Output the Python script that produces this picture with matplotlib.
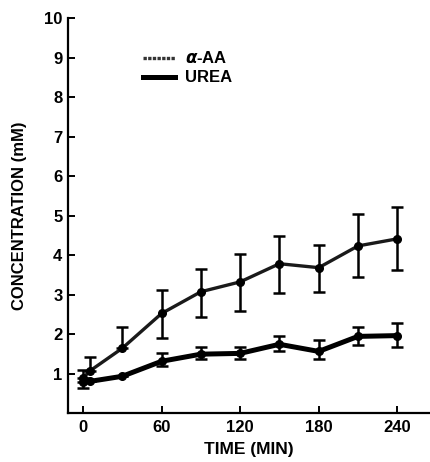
import matplotlib
matplotlib.use("Agg")
import matplotlib.pyplot as plt
import numpy as np

time = [0, 5, 30, 60, 90, 120, 150, 180, 210, 240]
aa_mean = [0.88, 1.06, 1.64, 2.52, 3.07, 3.32, 3.78, 3.68, 4.23, 4.41]
aa_upper = [1.08, 1.41, 2.17, 3.12, 3.65, 4.03, 4.48, 4.26, 5.04, 5.21]
aa_lower = [0.88, 1.06, 1.64, 1.91, 2.44, 2.59, 3.05, 3.07, 3.45, 3.63]
urea_mean = [0.78, 0.80, 0.93, 1.31, 1.49, 1.51, 1.74, 1.56, 1.94, 1.96]
urea_upper = [0.78, 0.80, 0.93, 1.51, 1.66, 1.66, 1.94, 1.86, 2.17, 2.27]
urea_lower = [0.63, 0.80, 0.93, 1.18, 1.36, 1.36, 1.56, 1.36, 1.71, 1.66]

xticks = [0, 60, 120, 180, 240]
yticks = [1, 2, 3, 4, 5, 6, 7, 8, 9, 10]

plt.rcParams['font.family'] = ['Liberation Sans', 'DejaVu Sans']
plt.rcParams['font.weight'] = 'bold'

fig = plt.figure(figsize=(4.3, 4.62), dpi=100)
ax = fig.add_axes([0.158, 0.106, 0.842, 0.855])

def draw(mean, lo, hi, lw, color, label):
    m = np.array(mean); l = np.array(lo); h = np.array(hi)
    ax.errorbar(time, m, yerr=[m - l, h - m], fmt='none', ecolor='black',
                elinewidth=1.8, capsize=4, capthick=1.8, zorder=2)
    ax.plot(time, m, '-', color=color, lw=lw, marker='o', ms=5.5,
            mfc='black', mec='black', zorder=3, label=label)

draw(aa_mean, aa_lower, aa_upper, 2.4, '#1a1a1a', r'$\alpha$-AA')
draw(urea_mean, urea_lower, urea_upper, 3.6, 'black', 'UREA')

ax.set_xlim(-11.5, 265)
ax.set_ylim(0, 10)
ax.set_xticks(xticks)
ax.set_yticks(yticks)
ax.spines['top'].set_visible(False)
ax.spines['right'].set_visible(False)
for s in ['left', 'bottom']:
    ax.spines[s].set_linewidth(1.6)
ax.tick_params(direction='in', length=5, width=1.4, labelsize=12)
ax.tick_params(axis='x', pad=5)
ax.tick_params(axis='y', pad=4)
for t in ax.get_xticklabels() + ax.get_yticklabels():
    t.set_fontweight('bold')

ax.set_xlabel('TIME (MIN)', fontsize=12.5, fontweight='bold', labelpad=5)
ax.set_ylabel('CONCENTRATION (mM)', fontsize=12, fontweight='bold', labelpad=12)

# legend drawn manually
ax.plot([46, 70], [9.0, 9.0], color='#333333', lw=2.4, linestyle=(0, (1, 0.4)))
ax.plot([46, 70], [8.5, 8.5], color='black', lw=3.6)
ax.text(78, 9.0, r'$\alpha$-AA', va='center', ha='left', fontsize=12, fontweight='bold')
ax.text(78, 8.5, 'UREA', va='center', ha='left', fontsize=12, fontweight='bold')

fig.savefig('out.png', dpi=100)
